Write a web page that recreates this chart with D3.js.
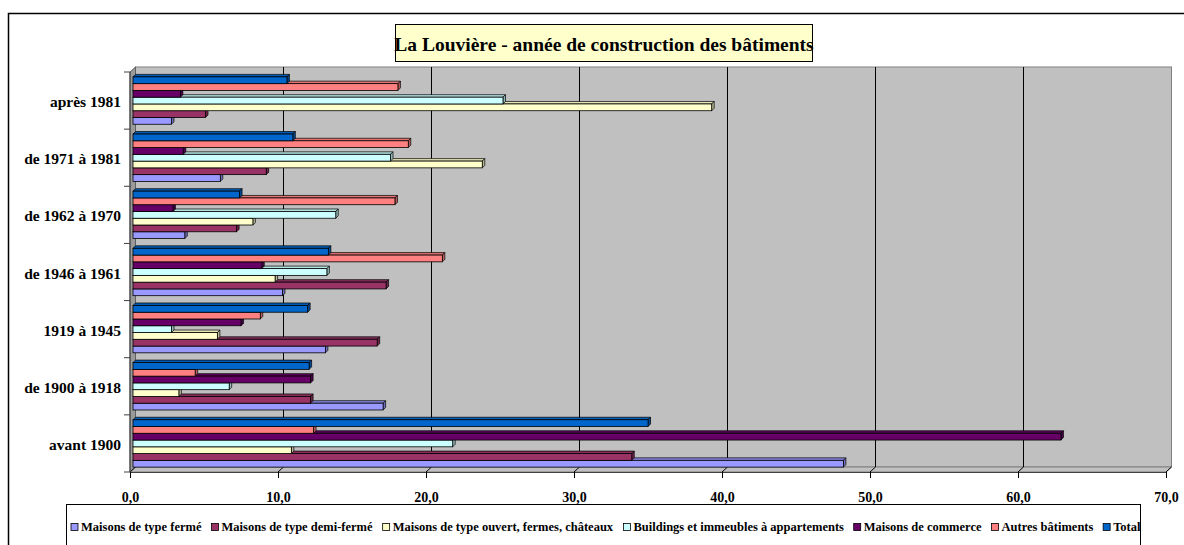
<!DOCTYPE html>
<html>
<head>
<meta charset="utf-8">
<script src="https://cdn.jsdelivr.net/npm/d3@7"></script>
<style>
  body { margin: 0; background: #fff; }
  svg { display: block; font-family: 'Liberation Serif', 'Times New Roman', serif; font-weight: bold; }
</style>
</head>
<body>
<svg id="chart" width="1184" height="545"></svg>
<script>
// periods, bottom to top as in the chart
const categories = ['avant 1900', 'de 1900 à 1918', '1919 à 1945', 'de 1946 à 1961', 'de 1962 à 1970', 'de 1971 à 1981', 'après 1981'];
const seriesNames = ['Maisons de type fermé', 'Maisons de type demi-fermé', 'Maisons de type ouvert, fermes, châteaux', 'Buildings et immeubles à appartements', 'Maisons de commerce', 'Autres bâtiments', 'Total'];
const seriesColors = ['#9999FF', '#993366', '#FFFFCC', '#CCFFFF', '#660066', '#FF8080', '#0066CC'];

// percentages per series, same order as categories
const fermeValues = [48.0, 16.9, 13.0, 10.1, 3.5, 5.9, 2.6];
const demiFermeValues = [33.7, 12.0, 16.5, 17.1, 7.0, 9.0, 4.9];
const ouvertValues = [10.7, 3.1, 5.7, 9.6, 8.1, 23.6, 39.1];
const buildingsValues = [21.6, 6.5, 2.6, 13.1, 13.7, 17.4, 25.0];
const commerceValues = [62.7, 12.0, 7.3, 8.7, 2.7, 3.4, 3.2];
const autresValues = [12.2, 4.2, 8.6, 20.9, 17.7, 18.6, 17.9];
const totalValues = [34.8, 11.9, 11.8, 13.2, 7.2, 10.8, 10.4];
const allValues = [fermeValues, demiFermeValues, ouvertValues, buildingsValues, commerceValues, autresValues, totalValues];

const xTicks = [0, 10, 20, 30, 40, 50, 60, 70];
const title = 'La Louvière - année de construction des bâtiments';

const svg = d3.select('#chart');
const fmt = (v) => v.toFixed(1).replace('.', ',');

// outer chart border
svg.append('rect')
    .attr('x', 8.5).attr('y', 13.5)
    .attr('width', 1300).attr('height', 700)
    .attr('fill', 'none').attr('stroke', '#000').attr('stroke-width', 1.5);

// scales (front plane of the 3d box)
const xScale = d3.scaleLinear().domain([0, 70]).range([130, 1166]);
const yScale = d3.scaleBand()
    .domain(categories.slice().reverse())
    .range([72, 472])
    .paddingInner(0.171)
    .paddingOuter(0.0855);
const ySeries = d3.scaleBand()
    .domain(seriesNames.slice().reverse())
    .range([0, yScale.bandwidth()]);

const DX = 5.5, DY = 5;   // depth of the box
const plotTop = 72, plotBottom = 472;

// back wall
svg.append('rect')
    .attr('x', xScale(0) + DX).attr('y', plotTop - DY)
    .attr('width', xScale(70) - xScale(0)).attr('height', plotBottom - plotTop)
    .attr('fill', '#c0c0c0').attr('stroke', '#808080').attr('stroke-width', 1);

// side wall
svg.append('polygon')
    .attr('points', [[xScale(0), plotTop], [xScale(0) + DX, plotTop - DY], [xScale(0) + DX, plotBottom - DY], [xScale(0), plotBottom]].join(' '))
    .attr('fill', '#9a9a9a').attr('stroke', '#606060').attr('stroke-width', 1);

// floor
svg.append('polygon')
    .attr('points', [[xScale(0), plotBottom], [xScale(0) + DX, plotBottom - DY], [xScale(70) + DX, plotBottom - DY], [xScale(70), plotBottom]].join(' '))
    .attr('fill', '#c0c0c0').attr('stroke', '#808080').attr('stroke-width', 1);

// gridlines on wall and floor
xTicks.forEach((t) => {
    if (t > 0 && t < 70) {
        svg.append('line')
            .attr('x1', xScale(t) + DX).attr('x2', xScale(t) + DX)
            .attr('y1', plotTop - DY).attr('y2', plotBottom - DY)
            .attr('stroke', '#000').attr('stroke-width', 1);
    }
    svg.append('line')
        .attr('x1', xScale(t)).attr('y1', plotBottom)
        .attr('x2', xScale(t) + DX).attr('y2', plotBottom - DY)
        .attr('stroke', '#000').attr('stroke-width', 1);
});

// bars, drawn bottom series first so upper bars cover the top faces
const BD = 2.5;
const barOffset = 3;
allValues.forEach((vals, si) => {
    const name = seriesNames[si];
    const c = seriesColors[si];
    const g = svg.append('g').attr('class', 'series');
    categories.forEach((cat, ci) => {
        const v = vals[ci];
        const x0 = xScale(0) + barOffset;
        const x1 = xScale(v) + barOffset;
        const y = yScale(cat) + ySeries(name);
        const h = ySeries.bandwidth();
        g.append('polygon')
            .attr('points', [[x0, y], [x0 + BD, y - BD], [x1 + BD, y - BD], [x1, y]].join(' '))
            .attr('fill', d3.color(c).darker(0.3)).attr('stroke', '#000').attr('stroke-width', 0.7);
        g.append('polygon')
            .attr('points', [[x1, y], [x1 + BD, y - BD], [x1 + BD, y + h - BD], [x1, y + h]].join(' '))
            .attr('fill', d3.color(c).darker(0.9)).attr('stroke', '#000').attr('stroke-width', 0.7);
        g.append('rect')
            .attr('x', x0).attr('y', y)
            .attr('width', x1 - x0).attr('height', h)
            .attr('fill', c).attr('stroke', '#000').attr('stroke-width', 0.8);
    });
});

// x axis along the front edge
const xAxis = d3.axisBottom(xScale).tickValues(xTicks).tickFormat(fmt).tickSize(6).tickPadding(14);
const gx = svg.append('g').attr('transform', `translate(0, ${plotBottom})`).call(xAxis);
gx.select('.domain').attr('stroke', '#404040');
gx.selectAll('text').style('font-size', '14px').style('font-weight', 'bold')
    .style('font-family', "'Liberation Serif', serif").attr('fill', '#000');

// category axis
const yAxis = d3.axisLeft(yScale).tickSize(0).tickPadding(9);
const gy = svg.append('g').attr('transform', `translate(${xScale(0)}, 0)`).call(yAxis);
gy.select('.domain').attr('stroke', '#404040').attr('d', `M0,${plotTop}V${plotBottom}`);
gy.selectAll('text').style('font-size', '15.5px').style('font-weight', 'bold')
    .style('font-family', "'Liberation Serif', serif").attr('fill', '#000').attr('dy', '0.42em');
// tick marks between categories
d3.range(categories.length + 1).forEach((i) => {
    const y = plotTop + i * yScale.step();
    svg.append('line')
        .attr('x1', xScale(0) - 6).attr('x2', xScale(0))
        .attr('y1', y).attr('y2', y)
        .attr('stroke', '#404040').attr('stroke-width', 1);
});

// title box
const tg = svg.append('g');
tg.append('rect')
    .attr('x', 395.5).attr('y', 24.5).attr('width', 417).attr('height', 37)
    .attr('fill', '#FFFFCC').attr('stroke', '#000').attr('stroke-width', 1);
tg.append('text')
    .attr('x', 604).attr('y', 51)
    .attr('text-anchor', 'middle')
    .style('font-size', '19.5px')
    .text(title);

// legend
const lg = svg.append('g');
lg.append('rect')
    .attr('x', 66.5).attr('y', 504.5).attr('width', 1074).attr('height', 80)
    .attr('fill', '#fff').attr('stroke', '#000').attr('stroke-width', 1);
const items = seriesNames.map((name, i) => {
    const it = lg.append('g');
    it.append('rect')
        .attr('x', 0).attr('y', -7.5).attr('width', 7).attr('height', 7)
        .attr('fill', seriesColors[i]).attr('stroke', '#000').attr('stroke-width', 0.8);
    it.append('text')
        .attr('x', 10).attr('y', 0)
        .style('font-size', '12.5px')
        .text(name);
    return it;
});
const widths = items.map((it) => it.node().getBBox().width);
const legendStart = 71, legendEnd = 1141;
const gap = (legendEnd - legendStart - d3.sum(widths)) / (items.length - 1);
let lx = legendStart;
items.forEach((it, i) => {
    it.attr('transform', `translate(${lx}, 531)`);
    lx += widths[i] + gap;
});
</script>
</body>
</html>
